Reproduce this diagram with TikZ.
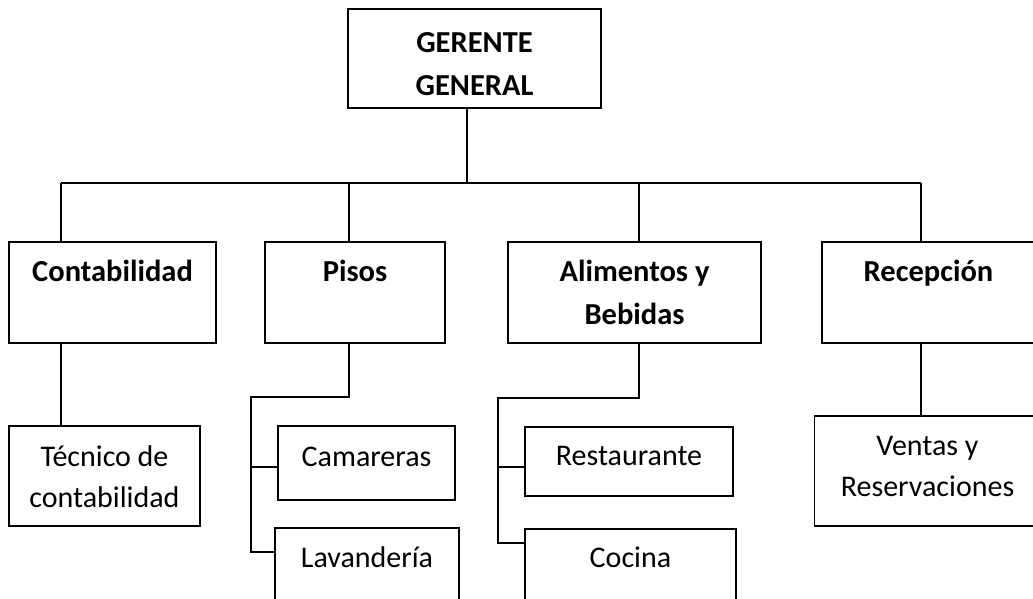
\documentclass[tikz,border=0pt]{standalone}
\usepackage{fontspec}
\setmainfont{Carlito}
\newcommand{\bxt}[2]{\raisebox{#1pt}[0pt][0pt]{\begin{tabular}[t]{@{}c@{}}#2\end{tabular}}}
\tikzset{
  orgbox/.style={draw=black, line width=1.6pt, inner sep=0pt, anchor=center},
  boldtxt/.style={font=\fontsize{30.5}{43}\selectfont\bfseries},
  regtxt/.style={font=\fontsize{30}{41}\selectfont},
  conn/.style={draw=black, line width=1.6pt}
}
\begin{document}
\begin{tikzpicture}[x=1pt,y=-1pt]
\useasboundingbox (0,0) rectangle (1033,598);
\fill[white] (0,0) rectangle (1033,598);
\clip (0,0) rectangle (1033,598);
% level 1
\node[orgbox,boldtxt,minimum width=253pt,minimum height=99pt] (gg) at (474.5,58.5) {\bxt{6.5}{GERENTE\\GENERAL}};
% level 2
\node[orgbox,boldtxt,minimum width=207pt,minimum height=101pt] (cont) at (112.5,292.5) {\bxt{11}{Contabilidad}};
\node[orgbox,boldtxt,minimum width=180pt,minimum height=101pt] (pisos) at (355,292.5) {\bxt{11}{Pisos}};
\node[orgbox,boldtxt,minimum width=253pt,minimum height=101pt] (alim) at (634.5,292.5) {\bxt{11}{Alimentos y\\Bebidas}};
\node[orgbox,boldtxt,minimum width=213pt,minimum height=101pt] (recep) at (928.5,292.5) {\bxt{11}{Recepción}};
% level 3
\node[orgbox,regtxt,minimum width=191pt,minimum height=100pt] (tec) at (104.5,476) {\bxt{9.5}{Técnico de\\contabilidad}};
\node[orgbox,regtxt,minimum width=177pt,minimum height=74pt] (cam) at (366.5,463) {\bxt{-3}{Camareras}};
\node[orgbox,regtxt,minimum width=184pt,minimum height=74pt] (lav) at (367,565) {\bxt{-2}{Lavandería}};
\node[orgbox,regtxt,minimum width=208pt,minimum height=69pt] (rest) at (629,461.5) {\bxt{-3.5}{Restaurante}};
\node[orgbox,regtxt,minimum width=211pt,minimum height=72pt] (coc) at (630.5,565) {\bxt{-2}{Cocina}};
\node[orgbox,regtxt,minimum width=226pt,minimum height=110pt] (vent) at (927.5,471) {\bxt{16}{Ventas y\\Reservaciones}};
% connector points
\coordinate (gtop) at (467,108);
\coordinate (busL) at (61,183);
\coordinate (busR) at (921,183);
\coordinate (busP) at (349,183);
\coordinate (busA) at (639,183);
\coordinate (busM) at (467,183);
\coordinate (pA) at (349,397);
\coordinate (pB) at (251,397);
\coordinate (pC) at (251,467);
\coordinate (pD) at (251,552);
\coordinate (aA) at (639,398);
\coordinate (aB) at (498,398);
\coordinate (aC) at (498,467);
\coordinate (aD) at (498,543);
% top
\draw[conn] (gtop |- gg.south) -- (busM);
\draw[conn] (busL) -- (busR);
\draw[conn] (busL) -- (busL |- cont.north);
\draw[conn] (busP) -- (busP |- pisos.north);
\draw[conn] (busA) -- (busA |- alim.north);
\draw[conn] (busR) -- (busR |- recep.north);
% contabilidad
\draw[conn] (busL |- cont.south) -- (busL |- tec.north);
% pisos
\draw[conn] (pA |- pisos.south) -- (pA) -- (pB) -- (pD) -- (pD -| lav.west);
\draw[conn] (pC) -- (pC -| cam.west);
% alimentos
\draw[conn] (aA |- alim.south) -- (aA) -- (aB) -- (aD) -- (aD -| coc.west);
\draw[conn] (aC) -- (aC -| rest.west);
% recepcion
\draw[conn] (busR |- recep.south) -- (busR |- vent.north);
\end{tikzpicture}
\end{document}
